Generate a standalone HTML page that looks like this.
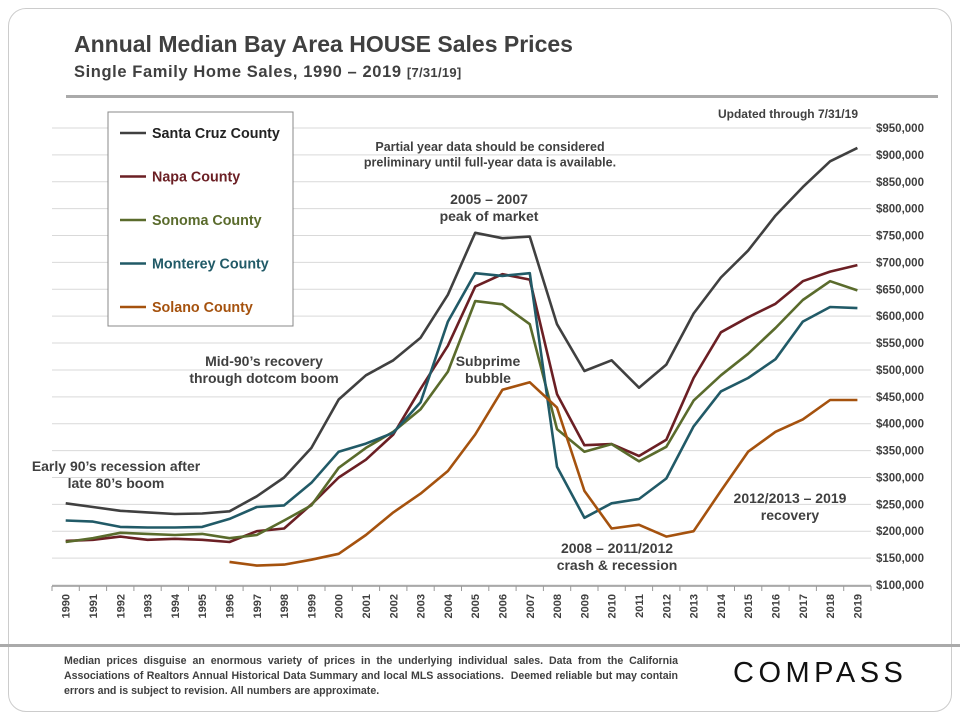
<!DOCTYPE html>
<html><head><meta charset="utf-8">
<style>
body{margin:0;background:#fff;font-family:"Liberation Sans",sans-serif;}
#wrap{position:relative;width:960px;height:720px;overflow:hidden;}
.t{position:absolute;color:#404040;font-weight:bold;}
</style></head>
<body>
<div id="wrap">
<div style="position:absolute;left:8px;top:8px;width:942px;height:702px;border:1px solid #ccc;border-radius:18px;"></div>
<div class="t" style="left:74px;top:31px;font-size:23px;">Annual Median Bay Area HOUSE Sales Prices</div>
<div class="t" style="left:74px;top:63px;font-size:16.5px;letter-spacing:0.6px">Single Family Home Sales, 1990 – 2019 <span style="font-size:13px;letter-spacing:0.3px">[7/31/19]</span></div>
<div style="position:absolute;left:66px;top:95px;width:872px;height:3px;background:#aaa"></div>
<div style="position:absolute;left:0;top:644px;width:960px;height:3px;background:#aaa"></div>
<div class="t" style="left:64px;top:654px;width:614px;font-size:10.6px;line-height:15px;text-align:justify">Median prices disguise an enormous variety of prices in the underlying individual sales. Data from the California Associations of Realtors Annual Historical Data Summary and local MLS associations. &nbsp;Deemed reliable but may contain errors and is subject to revision. All numbers are approximate.</div>
<div style="position:absolute;left:733px;top:657px;font-size:29px;letter-spacing:4.5px;color:#111">COMPASS</div>
<svg id="svg" width="960" height="720" style="position:absolute;left:0;top:0"></svg>
</div>
<script>
const years=[];for(let y=1990;y<=2019;y++)years.push(y);
const santaCruz=[252,245,238,235,232,233,237,265,300,355,445,490,518,560,640,755,745,748,585,498,518,467,510,605,672,722,787,840,888,913];
const napa=[182,184,190,184,186,184,180,200,205,250,300,333,380,465,545,655,678,668,455,360,362,340,370,485,570,598,623,665,683,695];
const sonoma=[180,187,197,195,193,195,187,193,220,248,318,355,385,427,497,628,622,585,390,348,362,330,357,443,490,530,578,630,665,648];
const monterey=[220,218,208,207,207,208,223,245,248,290,348,363,383,440,590,680,675,680,320,225,252,260,298,395,460,485,520,590,617,615];
const solano=[null,null,null,null,null,null,143,136,138,147,158,193,235,270,312,380,463,477,430,275,205,212,190,200,275,348,385,408,444,444];
const yTicks=[100,150,200,250,300,350,400,450,500,550,600,650,700,750,800,850,900,950];
const seriesNames=["Santa Cruz County","Napa County","Sonoma County","Monterey County","Solano County"];
const seriesColors=["#404040","#6b1f24","#5a6b2c","#215a67","#a5520e"];
const seriesData=[santaCruz,napa,sonoma,monterey,solano];

const NS="http://www.w3.org/2000/svg",svg=document.getElementById('svg');
const X0=52,X1=871,Y0=585,Y1=128;
const bw=(X1-X0)/years.length;
const xc=i=>X0+bw*(i+0.5);
const yv=v=>Y0-(v-100)/(950-100)*(Y0-Y1);
function el(t,a){const e=document.createElementNS(NS,t);for(const k in a)e.setAttribute(k,a[k]);svg.appendChild(e);return e;}
yTicks.forEach(v=>{
 const g=el('line',{x1:X0,x2:X1,y1:yv(v),y2:yv(v),stroke:'#d9d9d9','stroke-width':1});
 
 
 const t=el('text',{x:876,y:yv(v)+4,'font-size':11.5,'font-weight':'bold',fill:'#404040'});
 t.textContent='$'+v+',000';
 
 
});
const ax=el('line',{x1:X0,x2:X1,y1:Y0+1,y2:Y0+1,stroke:'#999','stroke-width':1.5});


for(let i=0;i<=years.length;i++){
 const tk=el('line',{x1:X0+bw*i,x2:X0+bw*i,y1:Y0+1,y2:Y0+6,stroke:'#999'});
 
 
}
years.forEach((y,i)=>{
 const t=el('text',{x:0,y:0,'font-size':11,'font-weight':'bold',fill:'#404040','text-anchor':'end',transform:`translate(${xc(i)+4},${Y0+9}) rotate(-90)`});
 t.textContent=y;
 
 
});
seriesData.forEach((d,s)=>{
 let p='';d.forEach((v,i)=>{if(v==null)return;p+=(p?'L':'M')+xc(i).toFixed(1)+','+yv(v).toFixed(1);});
 const l=el('path',{d:p,fill:'none',stroke:seriesColors[s],'stroke-width':2.6,'stroke-linejoin':'round'});
 
 
});
const lb=el('rect',{x:108,y:112,width:185,height:214,fill:'#fff',stroke:'#888','stroke-width':1});


seriesNames.forEach((n,s)=>{
 const y=133+s*43.5;
 const ln=el('line',{x1:120,x2:146,y1:y,y2:y,stroke:seriesColors[s],'stroke-width':2.6});
 
 
 const t=el('text',{x:152,y:y+5,'font-size':14.3,'font-weight':'bold',fill:s==0?'#222':seriesColors[s]});
 t.textContent=n;
 
 
});
const notes=[
 [858,118,'end',12,["Updated through 7/31/19"]],
 [490,151,'middle',12.5,["Partial year data should be considered","preliminary until full-year data is available."]],
 [489,204,'middle',14,["2005 – 2007","peak of market"]],
 [264,366,'middle',14,["Mid-90’s recovery","through dotcom boom"]],
 [488,366,'middle',14,["Subprime","bubble"]],
 [116,471,'middle',14,["Early 90’s recession after","late 80’s boom"]],
 [790,503,'middle',14,["2012/2013 – 2019","recovery"]],
 [617,553,'middle',14,["2008 – 2011/2012","crash & recession"]]
];
notes.forEach(([x,y,a,fs,lines])=>{
 lines.forEach((s,k)=>{
  const t=el('text',{x:x,y:y+k*(fs+3),'text-anchor':a,'font-size':fs,'font-weight':'bold',fill:'#404040'});
  t.textContent=s;
  
  
 });
});
</script>
</body></html>
